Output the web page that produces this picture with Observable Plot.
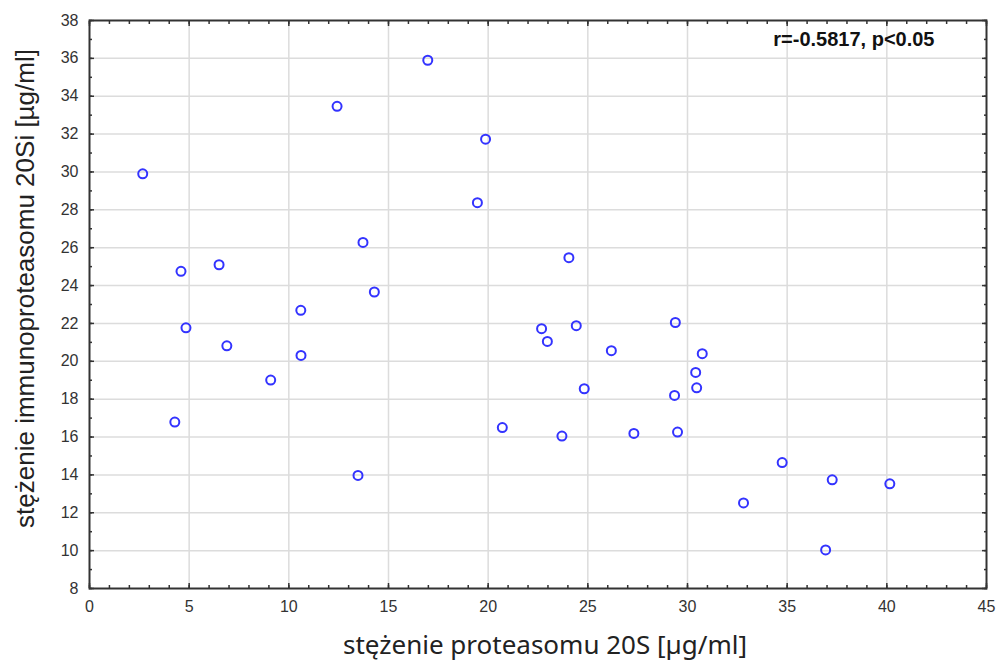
<!DOCTYPE html>
<html>
<head>
<meta charset="utf-8">
<script src="https://cdn.jsdelivr.net/npm/d3@7"></script>
<script src="https://cdn.jsdelivr.net/npm/@observablehq/plot@0.6"></script>
<style>
  body { margin: 0; background: #fff; }
  #chart svg { display: block; }
</style>
</head>
<body>
<div id="chart"></div>
<script>
// Proteasome 20S concentration (x) vs immunoproteasome 20Si concentration (y), µg/ml
const proteasome20S = [
  2.67, 4.59, 6.50, 12.42, 16.97, 19.87, 19.46, 13.72, 14.29, 10.60,
  4.84, 6.89, 10.61, 9.09, 4.28, 13.47, 20.71, 22.68, 24.42, 29.39,
  22.97, 26.18, 30.74, 30.41, 24.82, 30.46, 29.35, 23.70, 27.31, 29.50,
  34.75, 37.26, 40.15, 32.81, 36.93, 24.05
];
const immunoproteasome20Si = [
  29.90, 24.75, 25.10, 33.47, 35.90, 31.73, 28.38, 26.28, 23.66, 22.69,
  21.77, 20.82, 20.31, 19.01, 16.79, 13.97, 16.50, 21.72, 21.88, 22.05,
  21.05, 20.56, 20.40, 19.41, 18.55, 18.60, 18.20, 16.05, 16.19, 16.26,
  14.65, 13.74, 13.53, 12.52, 10.04, 25.47
];

const xMajor = d3.range(0, 46, 5);
const yMajor = d3.range(8, 39, 2);
const xMinor = d3.range(0, 46, 1);
const yMinor = d3.range(8, 39, 1);

const xLabel = "stężenie proteasomu 20S [µg/ml]";
const yLabel = "stężenie immunoproteasomu 20Si [µg/ml]";
const statsNote = "r=-0.5817, p<0.05";

const points = proteasome20S.map((x, i) => ({x, y: immunoproteasome20Si[i]}));

const tickFont = "'Liberation Sans', Arial, sans-serif";
const ink = "#333";

// inward tick marks (no labels) for one side of the frame
const inwardTicks = (axis, values, anchor, size) =>
  axis(values, {anchor, text: null, label: null, tickSize: -size, stroke: ink, strokeWidth: 1.5});

const chart = Plot.plot({
  width: 996,
  height: 662,
  marginLeft: 89,
  marginRight: 10,
  marginTop: 20,
  marginBottom: 74,
  style: {fontFamily: tickFont, background: "#fff"},
  x: {domain: [0, 45]},
  y: {domain: [8, 38]},
  marks: [
    Plot.gridX(xMajor.filter(d => d > 0 && d < 45), {stroke: "#dcdcdc", strokeOpacity: 1, strokeWidth: 1.5}),
    Plot.gridY(yMajor.filter(d => d > 8 && d < 38), {stroke: "#dcdcdc", strokeOpacity: 1, strokeWidth: 1.5}),
    inwardTicks(Plot.axisX, xMinor, "bottom", 3),
    inwardTicks(Plot.axisX, xMinor, "top", 3),
    inwardTicks(Plot.axisY, yMinor, "left", 3),
    inwardTicks(Plot.axisY, yMinor, "right", 3),
    inwardTicks(Plot.axisX, xMajor, "bottom", 5),
    inwardTicks(Plot.axisX, xMajor, "top", 5),
    inwardTicks(Plot.axisY, yMajor, "left", 5),
    inwardTicks(Plot.axisY, yMajor, "right", 5),
    // tick labels
    Plot.axisX(xMajor, {anchor: "bottom", tickSize: 0, tickPadding: 12, label: null, fontSize: 16, fill: ink}),
    Plot.axisY(yMajor, {anchor: "left", tickSize: 0, tickPadding: 11, label: null, fontSize: 16, fill: ink}),
    Plot.frame({stroke: ink, strokeWidth: 2}),
    Plot.dot(points, {x: "x", y: "y", r: 4.5, stroke: "#3333ff", strokeWidth: 2, fill: "none"}),
    Plot.text([statsNote], {
      frameAnchor: "top-right", textAnchor: "end", lineAnchor: "middle",
      dx: -52, dy: 19, fontSize: 20, fontWeight: "bold", fill: "#111"
    }),
    Plot.text([xLabel], {
      frameAnchor: "bottom", textAnchor: "middle", lineAnchor: "middle", dx: 7, dy: 57,
      fontSize: 26, fill: "#222", fontFamily: "'Noto Sans', sans-serif"
    }),
    Plot.text([yLabel], {
      frameAnchor: "left", textAnchor: "middle", rotate: -90, lineAnchor: "middle", dx: -64, dy: -16,
      fontSize: 26, fill: "#222", fontFamily: tickFont
    })
  ]
});

document.getElementById("chart").append(chart);
</script>
</body>
</html>
